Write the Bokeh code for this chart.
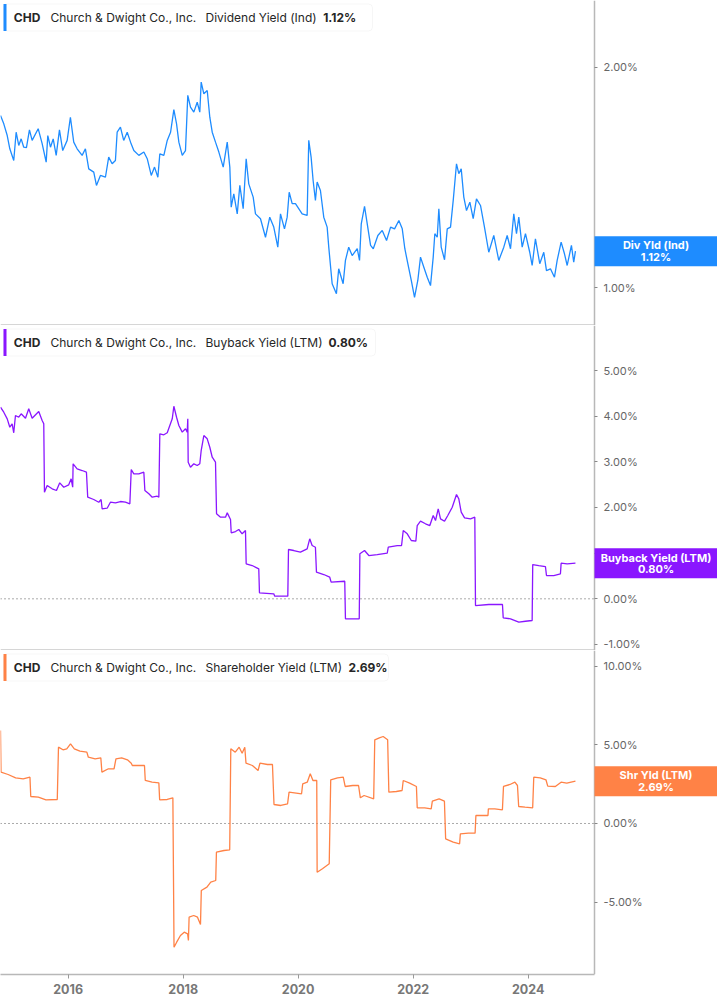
from datetime import datetime, timedelta
from bokeh.plotting import figure
from bokeh.layouts import column
from bokeh.models import (Range1d, FixedTicker, PrintfTickFormatter, DatetimeTickFormatter,
                          Span, BoxAnnotation, Label, LinearAxis)
from bokeh.embed import file_html
from bokeh.resources import INLINE

TICKER = "CHD"
COMPANY = "Church & Dwight Co., Inc."

# ---------------- data (decimal years, percent) ----------------
DIV_T = [2014.823, 2014.880, 2014.940, 2014.985, 2015.054, 2015.096, 2015.141, 2015.183, 2015.228, 2015.275,
         2015.327, 2015.374, 2015.479, 2015.548, 2015.618, 2015.646, 2015.693, 2015.740, 2015.792, 2015.849,
         2015.906, 2015.983, 2016.040, 2016.098, 2016.157, 2016.244, 2016.301, 2016.359, 2016.446, 2016.493,
         2016.562, 2016.649, 2016.706, 2016.766, 2016.823, 2016.853, 2016.910, 2016.967, 2017.026, 2017.084,
         2017.141, 2017.228, 2017.315, 2017.374, 2017.444, 2017.501, 2017.559, 2017.593, 2017.663, 2017.722,
         2017.780, 2017.837, 2017.884, 2017.924, 2017.983, 2018.040, 2018.080, 2018.127, 2018.185, 2018.244,
         2018.289, 2018.313, 2018.359, 2018.418, 2018.463, 2018.505, 2018.562, 2018.620, 2018.696, 2018.766,
         2018.811, 2018.835, 2018.880, 2018.940, 2018.985, 2019.044, 2019.096, 2019.141, 2019.218, 2019.258,
         2019.345, 2019.432, 2019.506, 2019.576, 2019.646, 2019.693, 2019.762, 2019.809, 2019.844, 2019.896,
         2019.953, 2020.070, 2020.157, 2020.185, 2020.226, 2020.261, 2020.301, 2020.331, 2020.388, 2020.446,
         2020.505, 2020.533, 2020.592, 2020.666, 2020.706, 2020.783, 2020.823, 2020.880, 2020.940, 2021.026,
         2021.066, 2021.096, 2021.153, 2021.200, 2021.258, 2021.305, 2021.385, 2021.461, 2021.536, 2021.606,
         2021.675, 2021.750, 2021.809, 2021.854, 2021.906, 2021.966, 2022.023, 2022.080, 2022.127, 2022.185,
         2022.244, 2022.301, 2022.348, 2022.376, 2022.418, 2022.446, 2022.487, 2022.545, 2022.592, 2022.649,
         2022.696, 2022.753, 2022.793, 2022.835, 2022.880, 2022.927, 2022.985, 2023.044, 2023.101, 2023.171,
         2023.240, 2023.315, 2023.402, 2023.489, 2023.576, 2023.635, 2023.693, 2023.750, 2023.797, 2023.837,
         2023.896, 2023.953, 2024.028, 2024.070, 2024.127, 2024.202, 2024.272, 2024.319, 2024.388, 2024.458,
         2024.505, 2024.574, 2024.632, 2024.679, 2024.753, 2024.793, 2024.823]
DIV_V = [1.781, 1.743, 1.690, 1.630, 1.577, 1.705, 1.645, 1.675, 1.637, 1.635,
         1.716, 1.668, 1.721, 1.653, 1.569, 1.690, 1.637, 1.675, 1.600, 1.716,
         1.622, 1.668, 1.773, 1.660, 1.630, 1.600, 1.630, 1.539, 1.524, 1.464,
         1.509, 1.501, 1.592, 1.562, 1.577, 1.705, 1.728, 1.668, 1.705, 1.660,
         1.622, 1.600, 1.615, 1.585, 1.509, 1.547, 1.501, 1.607, 1.600, 1.668,
         1.705, 1.807, 1.743, 1.660, 1.600, 1.622, 1.872, 1.819, 1.796, 1.841,
         1.796, 1.932, 1.879, 1.894, 1.773, 1.705, 1.660, 1.615, 1.547, 1.660,
         1.547, 1.365, 1.426, 1.335, 1.464, 1.358, 1.585, 1.471, 1.411, 1.335,
         1.313, 1.229, 1.320, 1.275, 1.184, 1.335, 1.267, 1.320, 1.433, 1.381,
         1.381, 1.335, 1.328, 1.668, 1.592, 1.486, 1.396, 1.479, 1.441, 1.320,
         1.275, 1.184, 1.018, 0.973, 1.086, 1.018, 1.124, 1.184, 1.146, 1.177,
         1.124, 1.290, 1.369, 1.290, 1.192, 1.177, 1.237, 1.260, 1.214, 1.275,
         1.267, 1.305, 1.267, 1.177, 1.109, 1.033, 0.957, 1.033, 1.139, 1.093,
         1.048, 1.010, 1.139, 1.245, 1.229, 1.358, 1.184, 1.127, 1.267, 1.275,
         1.396, 1.562, 1.517, 1.539, 1.411, 1.350, 1.388, 1.313, 1.403, 1.373,
         1.275, 1.161, 1.237, 1.124, 1.184, 1.237, 1.177, 1.335, 1.245, 1.320,
         1.184, 1.245, 1.161, 1.101, 1.222, 1.109, 1.161, 1.078, 1.086, 1.048,
         1.124, 1.207, 1.154, 1.101, 1.192, 1.116, 1.166]

BB_T = [2014.823, 2014.880, 2014.940, 2014.985, 2015.026, 2015.054, 2015.084, 2015.141, 2015.183, 2015.258,
        2015.315, 2015.374, 2015.489, 2015.548, 2015.576, 2015.588, 2015.635, 2015.722, 2015.797, 2015.854,
        2015.924, 2016.011, 2016.053, 2016.080, 2016.087, 2016.157, 2016.244, 2016.319, 2016.341, 2016.446,
        2016.533, 2016.574, 2016.592, 2016.679, 2016.736, 2016.823, 2016.910, 2016.997, 2017.072, 2017.096,
        2017.141, 2017.228, 2017.315, 2017.333, 2017.402, 2017.461, 2017.548, 2017.576, 2017.593, 2017.663,
        2017.722, 2017.767, 2017.809, 2017.837, 2017.884, 2017.924, 2017.983, 2018.040, 2018.070, 2018.080,
        2018.087, 2018.127, 2018.185, 2018.244, 2018.289, 2018.313, 2018.359, 2018.418, 2018.463, 2018.505,
        2018.562, 2018.580, 2018.649, 2018.736, 2018.766, 2018.823, 2018.835, 2018.910, 2018.967, 2019.026,
        2019.084, 2019.096, 2019.200, 2019.315, 2019.327, 2019.576, 2019.593, 2019.820, 2019.832, 2019.924,
        2020.040, 2020.157, 2020.202, 2020.244, 2020.301, 2020.319, 2020.446, 2020.550, 2020.574, 2020.811,
        2020.823, 2021.061, 2021.072, 2021.153, 2021.228, 2021.374, 2021.548, 2021.566, 2021.722, 2021.797,
        2021.826, 2021.896, 2021.966, 2022.046, 2022.070, 2022.127, 2022.214, 2022.289, 2022.348, 2022.388,
        2022.435, 2022.475, 2022.545, 2022.602, 2022.679, 2022.753, 2022.793, 2022.835, 2022.893, 2022.997,
        2023.072, 2023.084, 2023.315, 2023.553, 2023.566, 2023.693, 2023.837, 2023.953, 2024.070, 2024.080,
        2024.185, 2024.301, 2024.319, 2024.446, 2024.562, 2024.574, 2024.679, 2024.823]
BB_V = [4.196, 4.087, 3.942, 3.758, 3.833, 3.636, 4.014, 3.977, 4.052, 3.956,
        4.161, 3.956, 4.102, 3.905, 3.833, 2.335, 2.481, 2.409, 2.372, 2.540,
        2.444, 2.497, 2.628, 2.444, 2.957, 2.847, 2.810, 2.773, 2.225, 2.175,
        2.116, 2.175, 1.971, 1.984, 2.116, 2.102, 2.131, 2.116, 2.081, 2.832,
        2.738, 2.738, 2.773, 2.372, 2.300, 2.225, 2.247, 2.225, 3.614, 3.592,
        3.636, 3.795, 3.942, 4.218, 3.977, 3.795, 3.650, 3.723, 3.650, 3.942,
        2.992, 2.882, 2.957, 2.919, 2.957, 3.248, 3.576, 3.504, 3.320, 3.101,
        2.992, 1.862, 1.787, 1.787, 1.883, 1.737, 1.445, 1.474, 1.518, 1.424,
        1.496, 0.767, 0.729, 0.657, 0.131, 0.110, 0.057, 0.057, 1.080, 1.058,
        1.021, 1.095, 1.314, 1.167, 1.130, 0.583, 0.532, 0.473, 0.364, 0.385,
        -0.438, -0.438, 0.986, 1.058, 0.948, 0.970, 0.999, 1.130, 1.167, 1.167,
        1.496, 1.424, 1.277, 1.262, 1.605, 1.700, 1.643, 1.605, 1.824, 1.715,
        1.971, 1.752, 1.700, 1.824, 2.006, 2.284, 2.190, 1.897, 1.774, 1.752,
        1.787, -0.147, -0.125, -0.125, -0.416, -0.438, -0.512, -0.491, -0.475, 0.751,
        0.729, 0.707, 0.510, 0.510, 0.548, 0.780, 0.767, 0.780]

SHY_T = [2014.823, 2014.832, 2014.955, 2015.087, 2015.218, 2015.336, 2015.350, 2015.482, 2015.614, 2015.811,
         2015.832, 2015.910, 2015.976, 2016.042, 2016.108, 2016.206, 2016.326, 2016.352, 2016.470, 2016.569,
         2016.588, 2016.701, 2016.799, 2016.832, 2016.931, 2017.030, 2017.096, 2017.115, 2017.326, 2017.340,
         2017.458, 2017.576, 2017.590, 2017.722, 2017.820, 2017.840, 2017.886, 2017.952, 2018.018, 2018.077,
         2018.091, 2018.103, 2018.183, 2018.249, 2018.301, 2018.315, 2018.413, 2018.479, 2018.566, 2018.578,
         2018.710, 2018.809, 2018.828, 2018.906, 2018.973, 2019.026, 2019.072, 2019.093, 2019.204, 2019.303,
         2019.336, 2019.466, 2019.553, 2019.580, 2019.698, 2019.816, 2019.842, 2020.060, 2020.080, 2020.159,
         2020.211, 2020.258, 2020.324, 2020.331, 2020.423, 2020.541, 2020.567, 2020.686, 2020.785, 2020.818,
         2020.950, 2021.049, 2021.080, 2021.146, 2021.312, 2021.331, 2021.411, 2021.477, 2021.555, 2021.576,
         2021.706, 2021.806, 2021.826, 2021.938, 2022.056, 2022.070, 2022.200, 2022.313, 2022.333, 2022.451,
         2022.543, 2022.564, 2022.696, 2022.807, 2022.820, 2022.959, 2023.077, 2023.091, 2023.190, 2023.301,
         2023.308, 2023.420, 2023.552, 2023.571, 2023.684, 2023.769, 2023.814, 2023.835, 2023.946, 2024.079,
         2024.098, 2024.211, 2024.310, 2024.341, 2024.473, 2024.573, 2024.672, 2024.823]
SHY_V = [5.909, 3.260, 3.113, 2.903, 2.840, 2.942, 1.715, 1.671, 1.506, 1.525,
         4.848, 4.682, 4.746, 5.064, 4.746, 4.593, 4.530, 4.212, 4.110, 4.174,
         3.259, 3.475, 3.475, 4.110, 4.174, 4.047, 3.831, 3.685, 3.685, 2.732,
         2.624, 2.586, 1.506, 1.525, 1.633, -7.859, -7.540, -7.116, -6.904, -7.011,
         -7.433, -5.953, -5.845, -5.953, -6.417, -4.257, -4.046, -3.728, -3.621, -1.823,
         -1.715, -1.671, 4.746, 4.530, 4.848, 4.466, 4.848, 3.831, 3.685, 3.367,
         3.831, 3.748, 3.748, 1.207, 1.144, 1.252, 1.989, 1.887, 2.522, 2.624,
         3.158, 2.732, 2.732, -3.094, -2.878, -2.560, 2.776, 2.903, 2.942, 2.351,
         2.414, 2.414, 1.633, 1.779, 1.569, 5.318, 5.445, 5.527, 5.318, 1.989,
         2.033, 2.097, 2.732, 2.561, 2.351, 0.997, 0.997, 0.934, 1.417, 1.569,
         1.417, -0.972, -1.188, -1.290, -0.654, -0.616, -0.616, 0.508, 0.508, 0.508,
         0.934, 0.934, 0.870, 2.351, 2.478, 2.624, 2.414, 1.080, 1.036, 0.997,
         2.942, 2.903, 2.776, 2.370, 2.351, 2.624, 2.561, 2.690]

YEAR_TICKS = [2016, 2018, 2020, 2022, 2024]

PANELS = [
    dict(t=DIV_T, v=DIV_V, color="#1E8CFF", name="Dividend Yield (Ind)", last="1.12%",
         badge="Div Yld (Ind)", yr=(0.829, 2.302), ticks=[1.0, 2.0], h=325, zero=False,
         box_r=372, val_x=322.7),
    dict(t=BB_T, v=BB_V, color="#8A16FF", name="Buyback Yield (LTM)", last="0.80%",
         badge="Buyback Yield (LTM)", yr=(-1.132, 5.986), ticks=[-1, 0, 1, 2, 3, 4, 5, 6], h=325, zero=True,
         box_r=375, val_x=328.0),
    dict(t=SHY_T, v=SHY_V, color="#FF8246", name="Shareholder Yield (LTM)", last="2.69%",
         badge="Shr Yld (LTM)", yr=(-9.593, 10.99), ticks=[-5, 0, 5, 10], h=324, zero=True,
         box_r=388, val_x=348.0),
]

EPOCH = datetime(1970, 1, 1)


def dec_to_dt(y):
    yr = int(y)
    return datetime(yr, 1, 1) + timedelta(days=(y - yr) * 365.25)


def ms(d):
    return (d - EPOCH).total_seconds() * 1000.0


TOTAL_W = 717
FW = 594            # width of the data area (px)
PX_PER_YEAR = 57.5
X0 = dec_to_dt(2014.823)
X_AX = dec_to_dt(2014.823 + FW / PX_PER_YEAR)
X1 = dec_to_dt(2014.823 + TOTAL_W / PX_PER_YEAR)
X_RANGE = Range1d(X0, X1)
FONT = "Inter"

figs = []
for i, pn in enumerate(PANELS):
    last = i == len(PANELS) - 1
    H = pn["h"]
    p = figure(frame_width=TOTAL_W, frame_height=H, x_axis_type="datetime",
               x_range=X_RANGE, y_range=Range1d(*pn["yr"]), y_axis_location=None,
               x_axis_location="below" if last else None,
               toolbar_location=None, output_backend="svg",
               min_border_left=0, min_border_right=0, min_border_top=0,
               min_border_bottom=31 if last else 0)
    p.outline_line_color = None
    p.xgrid.visible = False
    p.ygrid.visible = False
    p.background_fill_color = "white"
    p.border_fill_color = "white"

    # zero reference line, masked on the axis side
    if pn["zero"]:
        p.add_layout(Span(location=0, dimension="width", line_color="#555555",
                          line_dash="1 3", line_width=1, level="underlay"))
    p.add_layout(BoxAnnotation(left=FW, right=TOTAL_W, left_units="screen", right_units="screen",
                               fill_color="white", fill_alpha=1.0, line_color=None, level="underlay"))
    if not last:
        p.add_layout(BoxAnnotation(left=0, right=FW, bottom=0, top=1.3,
                                   left_units="screen", right_units="screen",
                                   top_units="screen", bottom_units="screen",
                                   fill_color="#c8c8c8", fill_alpha=1.0, line_color=None,
                                   level="underlay"))

    # right value axis drawn at the end of the data area
    ax = LinearAxis(fixed_location=ms(X_AX))
    ax.ticker = FixedTicker(ticks=pn["ticks"])
    ax.formatter = PrintfTickFormatter(format="%.2f%%")
    ax.axis_line_color = "#b8b8b8"
    ax.axis_line_width = 1.5
    ax.major_tick_line_color = "#888888"
    ax.major_tick_out = 3
    ax.major_tick_in = 0
    ax.minor_tick_line_color = None
    ax.major_label_text_font = FONT
    ax.major_label_text_font_size = "11px"
    ax.major_label_text_color = "#666666"
    ax.major_label_standoff = 6
    p.add_layout(ax, "right")

    if last:
        xa = p.xaxis[0]
        xa.bounds = (X0, X_AX)
        xa.ticker = FixedTicker(ticks=[ms(dec_to_dt(y)) for y in YEAR_TICKS])
        xa.formatter = DatetimeTickFormatter(years="%Y", months="%Y", days="%Y", hours="%Y")
        xa.axis_line_color = "#b8b8b8"
        xa.axis_line_width = 1.5
        xa.major_tick_line_color = "#999999"
        xa.major_tick_out = 4
        xa.major_tick_in = 0
        xa.minor_tick_line_color = None
        xa.major_label_text_font = FONT
        xa.major_label_text_font_size = "12.5px"
        xa.major_label_text_font_style = "bold"
        xa.major_label_text_color = "#777777"
        xa.major_label_standoff = 5

    p.line([dec_to_dt(t) for t in pn["t"]], pn["v"], line_color=pn["color"], line_width=1.3)

    # badge on the right axis
    scale = (pn["yr"][1] - pn["yr"][0]) / H
    yv = pn["v"][-1]
    p.add_layout(BoxAnnotation(left=FW, right=TOTAL_W, left_units="screen", right_units="screen",
                               top=yv + 15 * scale, bottom=yv - 15 * scale,
                               fill_color=pn["color"], fill_alpha=1.0, line_color=None, level="overlay"))
    for txt, off in ((pn["badge"], 5.7), (pn["last"], -5.7)):
        p.add_layout(Label(x=FW + (TOTAL_W - FW) / 2, y=yv + off * scale, x_units="screen", y_units="data",
                           text=txt, text_align="center", text_baseline="middle",
                           text_color="white", text_font=FONT, text_font_size="11px",
                           text_font_style="bold", level="overlay"))

    # legend box
    p.add_layout(BoxAnnotation(left=3, right=pn["box_r"], top=H - 3.5, bottom=H - 30.5,
                               left_units="screen", right_units="screen",
                               top_units="screen", bottom_units="screen",
                               fill_color="white", fill_alpha=1.0, line_color="#e2e2e2",
                               line_width=1, border_radius=4, level="overlay"))
    p.add_layout(BoxAnnotation(left=3, right=6, top=H - 3.5, bottom=H - 30.5,
                               left_units="screen", right_units="screen",
                               top_units="screen", bottom_units="screen",
                               fill_color=pn["color"], fill_alpha=1.0, line_color=None, level="overlay"))
    ly = H - 16.5
    for txt, x, style in ((TICKER, 13.3, "bold"), (COMPANY, 50, "normal"),
                          (pn["name"], 205, "normal"), (pn["last"], pn["val_x"], "bold")):
        p.add_layout(Label(x=x, y=ly, x_units="screen", y_units="screen", text=txt,
                           text_align="left", text_baseline="middle", text_color="#262626",
                           text_font=FONT, text_font_size="12px", text_font_style=style,
                           level="overlay"))
    figs.append(p)

layout = column(*figs, spacing=0)
open("out.html", "w").write(file_html(layout, INLINE))
